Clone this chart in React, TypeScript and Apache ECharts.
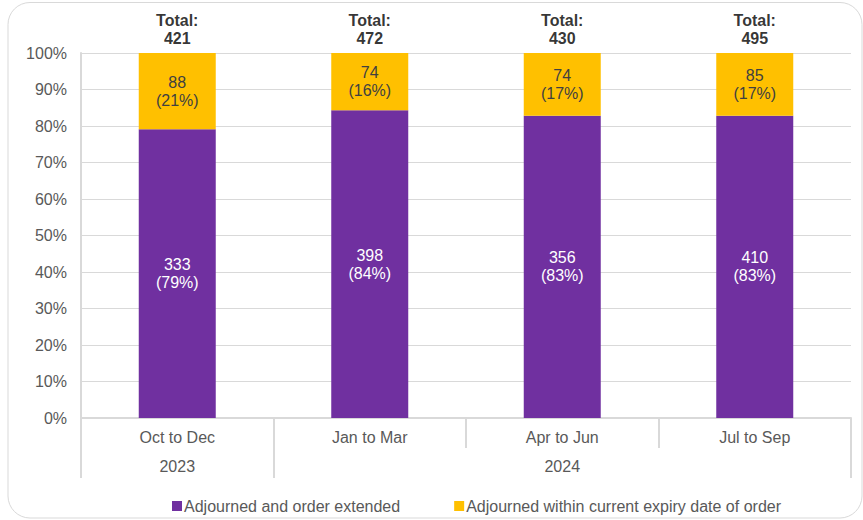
import React, { useEffect, useRef } from "react";
import * as echarts from "echarts";

const categories = ["Oct to Dec", "Jan to Mar", "Apr to Jun", "Jul to Sep"];
const years = ["2023", "", "2024", ""];
const extended = [333, 398, 356, 410];
const withinExpiry = [88, 74, 74, 85];
const seriesNames = ["Adjourned and order extended", "Adjourned within current expiry date of order"];

const FONT = "'Liberation Sans', Arial, sans-serif";

export default function App() {
  const ref = useRef<HTMLDivElement>(null);
  useEffect(() => {
    if (!ref.current) return;
    const chart = echarts.init(ref.current, null, { renderer: "svg" });
    const totals = extended.map((v, i) => v + withinExpiry[i]);
    const pctA = extended.map((v, i) => (v / totals[i]) * 100);
    const pctB = withinExpiry.map((v, i) => (v / totals[i]) * 100);
    const fmt = (vals: number[]) => (p: any) =>
      `${vals[p.dataIndex]}\n(${Math.round((vals[p.dataIndex] / totals[p.dataIndex]) * 100)}%)`;

    chart.setOption({
      animation: false,
      textStyle: { fontFamily: FONT },
      graphic: [
        {
          type: "rect",
          shape: { x: 8, y: 2.5, width: 854, height: 515.5, r: 22 },
          style: { fill: "none", stroke: "#d9d9d9", lineWidth: 1 },
          silent: true,
        },
      ],
      grid: { left: 81, right: 12, top: 53, bottom: 102, containLabel: false },
      legend: {
        left: 172,
        top: 498,
        padding: 0,
        icon: "rect",
        itemWidth: 10,
        itemHeight: 10,
        itemGap: 54,
        itemStyle: { borderWidth: 0 },
        textStyle: { fontFamily: FONT, fontSize: 16, color: "#595959", padding: [0, 0, 0, -3] },
        data: seriesNames,
      },
      xAxis: [
        {
          type: "category",
          data: categories,
          position: "bottom",
          axisLine: { show: true, lineStyle: { color: "#d9d9d9", width: 2 } },
          axisTick: { show: true, length: 30, lineStyle: { color: "#d9d9d9", width: 2 } },
          axisLabel: { fontFamily: FONT, fontSize: 16, color: "#595959", margin: 11 },
        },
        {
          type: "category",
          data: years,
          position: "bottom",
          offset: 30,
          axisLine: { show: false },
          axisTick: {
            show: true,
            length: 30,
            interval: (index: number) => index <= 1,
            lineStyle: { color: "#d9d9d9", width: 2 },
          },
          axisLabel: { fontFamily: FONT, fontSize: 16, color: "#595959", margin: 10, interval: 0 },
        },
      ],
      yAxis: {
        type: "value",
        min: 0,
        max: 100,
        interval: 10,
        axisLine: { show: true, lineStyle: { color: "#d9d9d9", width: 2 } },
        axisTick: { show: false },
        splitLine: { lineStyle: { color: "#d9d9d9", width: 1 } },
        axisLabel: {
          formatter: "{value}%",
          fontFamily: FONT,
          fontSize: 16,
          color: "#595959",
          margin: 14,
        },
      },
      series: [
        {
          name: seriesNames[0],
          type: "bar",
          stack: "total",
          barWidth: "40%",
          data: pctA,
          itemStyle: { color: "#7030A0" },
          label: {
            show: true,
            position: "inside",
            formatter: fmt(extended),
            color: "#ffffff",
            fontFamily: FONT,
            fontSize: 16,
            lineHeight: 18,
          },
        },
        {
          name: seriesNames[1],
          type: "bar",
          stack: "total",
          barWidth: "40%",
          data: pctB,
          itemStyle: { color: "#FFC000" },
          label: {
            show: true,
            position: "inside",
            formatter: fmt(withinExpiry),
            color: "#404040",
            fontFamily: FONT,
            fontSize: 16,
            lineHeight: 18,
          },
        },
        {
          name: "totals",
          type: "scatter",
          data: totals.map((t, i) => [i, 100]),
          symbolSize: 0,
          silent: true,
          label: {
            show: true,
            position: "top",
            distance: 6,
            formatter: (p: any) => `Total:\n${totals[p.dataIndex]}`,
            color: "#000000",
            fontWeight: "bold",
            fontFamily: FONT,
            fontSize: 16,
            lineHeight: 18,
          },
        },
      ],
    });
    return () => chart.dispose();
  }, []);
  return (
    <div
      ref={ref}
      style={{ position: "fixed", left: 0, top: 0, width: 863, height: 520, background: "#fff" }}
    />
  );
}
